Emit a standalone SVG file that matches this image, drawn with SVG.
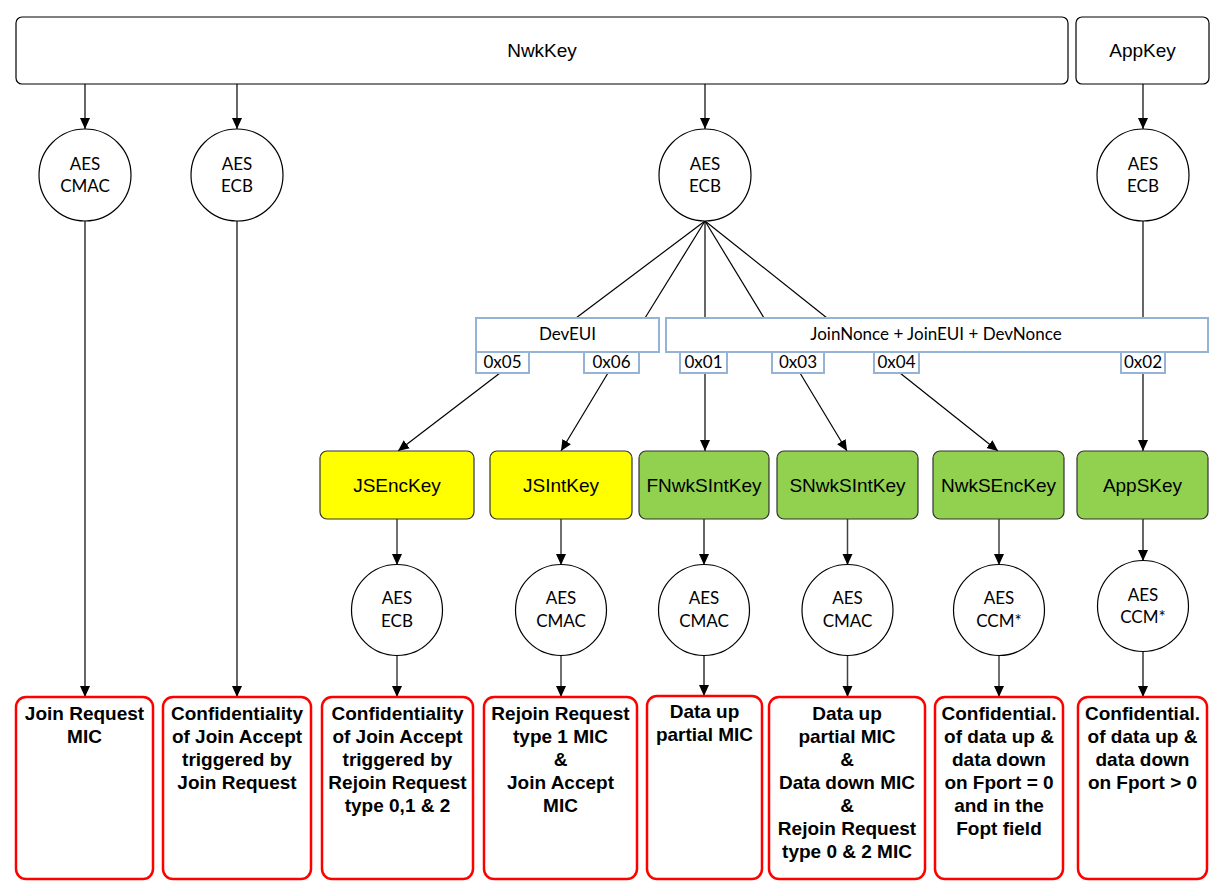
<svg xmlns="http://www.w3.org/2000/svg" width="1217" height="886" viewBox="0 0 1217 886">
<style>
.bg{fill:#fff}
.root{fill:#fff;stroke:#000;stroke-width:1.2}
.circ{fill:#fff;stroke:#000;stroke-width:1.2}
.bar{fill:#fff;stroke:#95B3D7;stroke-width:2}
.ykey{fill:#FFFF00;stroke:#333;stroke-width:1.2}
.gkey{fill:#92D050;stroke:#333;stroke-width:1.2}
.out{fill:#fff;stroke:#FF0000;stroke-width:2.5}
.c{font-family:Lato,"Open Sans","Liberation Sans",sans-serif;font-size:17px;fill:#000;text-anchor:middle}
.a{font-family:"Liberation Sans",Arial,sans-serif;font-size:19px;fill:#000;text-anchor:middle}
.b{font-family:"Liberation Sans",Arial,sans-serif;font-size:19px;font-weight:bold;fill:#000;text-anchor:middle}
.ln{stroke:#000;stroke-width:1.2;fill:none}
.ar{stroke:#000;stroke-width:1.2;fill:none;marker-end:url(#ah)}
.ag{stroke:#404040;stroke-width:1.5;fill:none;marker-end:url(#ah)}
</style>
<defs>
<marker id="ah" markerUnits="userSpaceOnUse" markerWidth="12" markerHeight="12" refX="11" refY="5" orient="auto" viewBox="0 0 12 10">
<path d="M0,0 L11,5 L0,10 z" fill="#000"/>
</marker>
</defs>
<rect class="bg" x="0" y="0" width="1217" height="886"/>

<g id="connectors">
<line class="ar" x1="85" y1="84" x2="85" y2="129"/>
<line class="ar" x1="237" y1="84" x2="237" y2="129"/>
<line class="ar" x1="705" y1="84" x2="705" y2="129"/>
<line class="ar" x1="1143" y1="84" x2="1143" y2="129"/>
<line class="ar" x1="85" y1="221" x2="85" y2="697"/>
<line class="ar" x1="237" y1="221" x2="237" y2="697"/>
<line class="ln" x1="705" y1="221" x2="576" y2="318"/>
<line class="ln" x1="705" y1="221" x2="645" y2="318"/>
<line class="ln" x1="705" y1="221" x2="705" y2="318"/>
<line class="ln" x1="705" y1="221" x2="764" y2="318"/>
<line class="ln" x1="705" y1="221" x2="827" y2="318"/>
<line class="ln" x1="1143" y1="221" x2="1143" y2="318"/>
<line class="ar" x1="500" y1="373" x2="398" y2="451"/>
<line class="ar" x1="608" y1="373" x2="561" y2="451"/>
<line class="ar" x1="705" y1="373" x2="705" y2="451"/>
<line class="ar" x1="800" y1="373" x2="847" y2="451"/>
<line class="ar" x1="900" y1="373" x2="998" y2="451"/>
<line class="ar" x1="1143" y1="373" x2="1143" y2="451"/>
<line class="ag" x1="397" y1="519" x2="397" y2="565"/>
<line class="ag" x1="561" y1="519" x2="561" y2="565"/>
<line class="ar" x1="704" y1="519" x2="704" y2="565"/>
<line class="ag" x1="847.5" y1="519" x2="847.5" y2="565"/>
<line class="ag" x1="999" y1="519" x2="999" y2="565"/>
<line class="ar" x1="1143" y1="519" x2="1143" y2="561"/>
<line class="ag" x1="397" y1="655" x2="397" y2="697"/>
<line class="ag" x1="561" y1="655" x2="561" y2="697"/>
<line class="ar" x1="704" y1="655" x2="704" y2="696"/>
<line class="ag" x1="847.5" y1="655" x2="847.5" y2="697"/>
<line class="ag" x1="999" y1="655" x2="999" y2="697"/>
<line class="ar" x1="1143" y1="652" x2="1143" y2="697"/>
</g>

<g id="nwkkey"><rect class="root" x="16" y="17" width="1052" height="67" rx="6"/><text class="a" x="542" y="57">NwkKey</text></g>
<g id="appkey"><rect class="root" x="1076" y="17" width="133" height="67" rx="6"/><text class="a" x="1142.5" y="57">AppKey</text></g>

<g id="aes1"><circle class="circ" cx="85" cy="175" r="46"/><text class="c" x="85" y="170">AES</text><text class="c" x="85" y="192">CMAC</text></g>
<g id="aes2"><circle class="circ" cx="237" cy="175" r="46"/><text class="c" x="237" y="170">AES</text><text class="c" x="237" y="192">ECB</text></g>
<g id="aes3"><circle class="circ" cx="705" cy="175" r="46"/><text class="c" x="705" y="170">AES</text><text class="c" x="705" y="192">ECB</text></g>
<g id="aes4"><circle class="circ" cx="1143" cy="175" r="46"/><text class="c" x="1143" y="170">AES</text><text class="c" x="1143" y="192">ECB</text></g>

<g id="deveui"><rect class="bar" x="476" y="318" width="183" height="34"/><text class="c" x="567.5" y="340">DevEUI</text></g>
<g id="joinnonce"><rect class="bar" x="666" y="318" width="542" height="34"/><text class="c" x="936" y="340">JoinNonce + JoinEUI + DevNonce</text></g>
<g id="t05"><rect class="bar" x="476" y="352" width="53" height="21"/><text class="c" x="502.5" y="367.5">0x05</text></g>
<g id="t06"><rect class="bar" x="584" y="352" width="55" height="21"/><text class="c" x="611.5" y="367.5">0x06</text></g>
<g id="t01"><rect class="bar" x="680" y="352" width="47" height="21"/><text class="c" x="703.5" y="367.5">0x01</text></g>
<g id="t03"><rect class="bar" x="772" y="352" width="52" height="21"/><text class="c" x="798" y="367.5">0x03</text></g>
<g id="t04"><rect class="bar" x="874" y="352" width="45" height="21"/><text class="c" x="896.5" y="367.5">0x04</text></g>
<g id="t02"><rect class="bar" x="1121" y="352" width="44" height="21"/><text class="c" x="1143" y="367.5">0x02</text></g>

<g id="jsenckey"><rect class="ykey" x="320" y="451" width="154" height="68" rx="7"/><text class="a" x="397" y="492">JSEncKey</text></g>
<g id="jsintkey"><rect class="ykey" x="490" y="451" width="142" height="68" rx="7"/><text class="a" x="561" y="492">JSIntKey</text></g>
<g id="fnwksintkey"><rect class="gkey" x="639" y="451" width="130" height="68" rx="7"/><text class="a" x="704" y="492">FNwkSIntKey</text></g>
<g id="snwksintkey"><rect class="gkey" x="777" y="451" width="141" height="68" rx="7"/><text class="a" x="847.5" y="492">SNwkSIntKey</text></g>
<g id="nwksenckey"><rect class="gkey" x="933" y="451" width="131" height="68" rx="7"/><text class="a" x="998.5" y="492">NwkSEncKey</text></g>
<g id="appskey"><rect class="gkey" x="1077" y="451" width="131" height="68" rx="7"/><text class="a" x="1142.5" y="492">AppSKey</text></g>

<g id="aes5"><circle class="circ" cx="397" cy="610" r="45.5"/><text class="c" x="397" y="604">AES</text><text class="c" x="397" y="626.5">ECB</text></g>
<g id="aes6"><circle class="circ" cx="561" cy="610" r="45.5"/><text class="c" x="561" y="604">AES</text><text class="c" x="561" y="626.5">CMAC</text></g>
<g id="aes7"><circle class="circ" cx="704" cy="610" r="45.5"/><text class="c" x="704" y="604">AES</text><text class="c" x="704" y="626.5">CMAC</text></g>
<g id="aes8"><circle class="circ" cx="847.5" cy="610" r="45.5"/><text class="c" x="847.5" y="604">AES</text><text class="c" x="847.5" y="626.5">CMAC</text></g>
<g id="aes9"><circle class="circ" cx="999" cy="610" r="45.5"/><text class="c" x="999" y="604">AES</text><text class="c" x="999" y="626.5">CCM*</text></g>
<g id="aes10"><circle class="circ" cx="1143" cy="606" r="45.5"/><text class="c" x="1143" y="601">AES</text><text class="c" x="1143" y="623">CCM*</text></g>

<g id="out1"><rect class="out" x="16" y="697" width="137" height="182" rx="10"/>
<text class="b" x="84.5" y="720">Join Request</text><text class="b" x="84.5" y="743">MIC</text></g>
<g id="out2"><rect class="out" x="163" y="697" width="148" height="182" rx="10"/>
<text class="b" x="237" y="720">Confidentiality</text><text class="b" x="237" y="743">of Join Accept</text><text class="b" x="237" y="766">triggered by</text><text class="b" x="237" y="789">Join Request</text></g>
<g id="out3"><rect class="out" x="322" y="697" width="151" height="182" rx="10"/>
<text class="b" x="397.5" y="720">Confidentiality</text><text class="b" x="397.5" y="743">of Join Accept</text><text class="b" x="397.5" y="766">triggered by</text><text class="b" x="397.5" y="789">Rejoin Request</text><text class="b" x="397.5" y="812">type 0,1 &amp; 2</text></g>
<g id="out4"><rect class="out" x="484" y="697" width="153" height="182" rx="10"/>
<text class="b" x="560.5" y="720">Rejoin Request</text><text class="b" x="560.5" y="743">type 1 MIC</text><text class="b" x="560.5" y="766">&amp;</text><text class="b" x="560.5" y="789">Join Accept</text><text class="b" x="560.5" y="812">MIC</text></g>
<g id="out5"><rect class="out" x="647" y="696" width="115" height="183" rx="10"/>
<text class="b" x="704.5" y="718">Data up</text><text class="b" x="704.5" y="741">partial MIC</text></g>
<g id="out6"><rect class="out" x="769" y="697" width="156" height="182" rx="10"/>
<text class="b" x="847" y="720">Data up</text><text class="b" x="847" y="743">partial MIC</text><text class="b" x="847" y="766">&amp;</text><text class="b" x="847" y="789">Data down MIC</text><text class="b" x="847" y="812">&amp;</text><text class="b" x="847" y="835">Rejoin Request</text><text class="b" x="847" y="858">type 0 &amp; 2 MIC</text></g>
<g id="out7"><rect class="out" x="935" y="697" width="128" height="182" rx="10"/>
<text class="b" x="999" y="720">Confidential.</text><text class="b" x="999" y="743">of data up &amp;</text><text class="b" x="999" y="766">data down</text><text class="b" x="999" y="789">on Fport = 0</text><text class="b" x="999" y="812">and in the</text><text class="b" x="999" y="835">Fopt field</text></g>
<g id="out8"><rect class="out" x="1078" y="697" width="129" height="182" rx="10"/>
<text class="b" x="1142.5" y="720">Confidential.</text><text class="b" x="1142.5" y="743">of data up &amp;</text><text class="b" x="1142.5" y="766">data down</text><text class="b" x="1142.5" y="789">on Fport &gt; 0</text></g>
</svg>
